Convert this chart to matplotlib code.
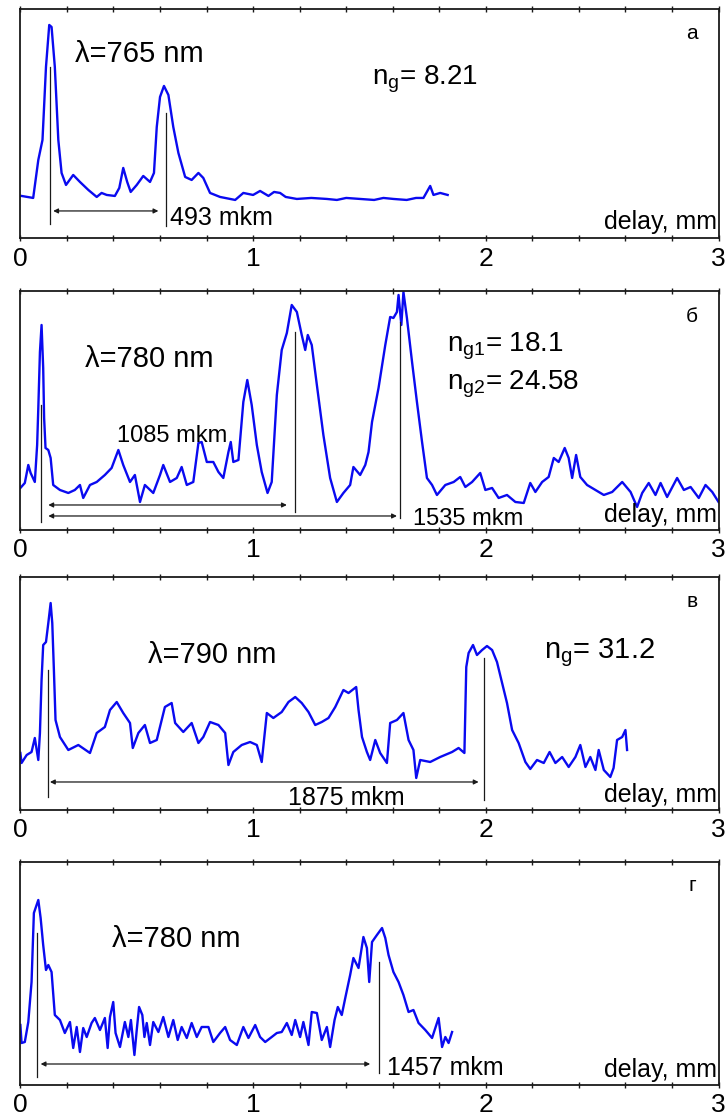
import matplotlib
matplotlib.use("Agg")
import matplotlib.pyplot as plt
from matplotlib.ticker import MultipleLocator

plt.rcParams['font.family'] = ['Liberation Sans', 'DejaVu Sans']
plt.rcParams['mathtext.fontset'] = 'custom'
plt.rcParams['mathtext.rm'] = 'Liberation Sans'
plt.rcParams['mathtext.it'] = 'Liberation Sans'

# delay (mm) / signal (arb. units)
x_a = [0.005, 0.055, 0.077, 0.095, 0.110, 0.124, 0.134, 0.148, 0.163, 0.177,
       0.196, 0.227, 0.256, 0.292, 0.328, 0.349, 0.371, 0.406, 0.425, 0.442,
       0.459, 0.474, 0.500, 0.528, 0.557, 0.574, 0.586, 0.600, 0.617, 0.636,
       0.657, 0.679, 0.708, 0.736, 0.765, 0.786, 0.815, 0.858, 0.923, 0.958,
       1.000, 1.030, 1.066, 1.090, 1.116, 1.140, 1.188, 1.250, 1.317, 1.360,
       1.400, 1.460, 1.520, 1.560, 1.603, 1.660, 1.700, 1.732, 1.761, 1.775,
       1.804, 1.836]
y_a = [41, 39, 77, 97, 170, 212, 210, 170, 97, 64,
       52, 62, 55, 47, 40, 44, 42, 41, 49, 69,
       55, 45, 52, 61, 55, 64, 110, 140, 151, 142,
       110, 84, 60, 57, 64, 59, 44, 40, 37, 44,
       42, 46, 41, 45, 44, 40, 38, 39, 38, 37,
       39, 38, 37, 39, 38, 37, 39, 39, 51, 42,
       44, 42]

x_b = [0.0, 0.019, 0.034, 0.044, 0.062, 0.072, 0.077, 0.084, 0.091, 0.098,
       0.102, 0.108, 0.120, 0.130, 0.141, 0.170, 0.206, 0.234, 0.256, 0.270,
       0.299, 0.328, 0.363, 0.392, 0.421, 0.442, 0.471, 0.492, 0.514, 0.535,
       0.571, 0.600, 0.614, 0.643, 0.672, 0.693, 0.715, 0.743, 0.765, 0.779,
       0.801, 0.829, 0.851, 0.872, 0.894, 0.904, 0.915, 0.937, 0.958, 0.975,
       0.994, 1.016, 1.037, 1.062, 1.080, 1.102, 1.123, 1.145, 1.166, 1.188,
       1.209, 1.224, 1.235, 1.252, 1.274, 1.302, 1.331, 1.360, 1.388, 1.417,
       1.431, 1.460, 1.482, 1.496, 1.511, 1.539, 1.568, 1.589, 1.603, 1.618,
       1.625, 1.637, 1.646, 1.661, 1.683, 1.704, 1.726, 1.747, 1.769, 1.790,
       1.826, 1.862, 1.890, 1.912, 1.941, 1.976, 1.998, 2.027, 2.055, 2.091,
       2.127, 2.163, 2.191, 2.213, 2.242, 2.270, 2.292, 2.313, 2.339, 2.356,
       2.371, 2.388, 2.406, 2.435, 2.471, 2.507, 2.543, 2.586, 2.622, 2.650,
       2.672, 2.700, 2.729, 2.751, 2.779, 2.822, 2.851, 2.880, 2.915, 2.944,
       2.973, 3.0]
y_b = [42, 47, 65, 57, 48, 85, 122, 178, 205, 162,
       112, 82, 80, 72, 45, 40, 37, 40, 45, 32,
       45, 48, 55, 62, 80, 65, 48, 55, 28, 45,
       37, 55, 65, 48, 52, 63, 45, 48, 87, 88,
       68, 68, 58, 52, 78, 88, 68, 70, 128, 150,
       125, 85, 58, 37, 48, 135, 180, 197, 225, 218,
       195, 180, 195, 185, 145, 95, 52, 28, 37, 45,
       63, 55, 65, 78, 108, 142, 185, 213, 212, 218,
       235, 205, 238, 212, 168, 128, 88, 52, 45, 35,
       45, 48, 53, 43, 48, 57, 40, 42, 32, 35,
       28, 27, 47, 38, 48, 53, 72, 68, 82, 72,
       52, 75, 53, 45, 40, 35, 38, 48, 38, 23,
       37, 47, 35, 47, 33, 52, 40, 43, 32, 45,
       38, 28]

x_c = [0.0, 0.005, 0.027, 0.048, 0.062, 0.077, 0.084, 0.091, 0.098, 0.110,
       0.120, 0.130, 0.137, 0.144, 0.151, 0.170, 0.206, 0.249, 0.299, 0.328,
       0.363, 0.385, 0.414, 0.442, 0.471, 0.483, 0.507, 0.535, 0.557, 0.586,
       0.621, 0.650, 0.665, 0.700, 0.736, 0.765, 0.786, 0.815, 0.851, 0.880,
       0.894, 0.915, 0.951, 0.987, 1.016, 1.037, 1.059, 1.087, 1.123, 1.152,
       1.181, 1.209, 1.238, 1.267, 1.295, 1.324, 1.353, 1.388, 1.410, 1.443,
       1.453, 1.468, 1.489, 1.503, 1.525, 1.546, 1.575, 1.589, 1.618, 1.646,
       1.668, 1.689, 1.701, 1.718, 1.761, 1.804, 1.855, 1.883, 1.908, 1.916,
       1.926, 1.945, 1.962, 1.984, 2.005, 2.027, 2.048, 2.070, 2.091, 2.113,
       2.141, 2.170, 2.191, 2.220, 2.249, 2.274, 2.299, 2.328, 2.356, 2.385,
       2.406, 2.428, 2.449, 2.471, 2.485, 2.507, 2.535, 2.549, 2.564, 2.586,
       2.600, 2.607]
y_c = [57, 47, 55, 58, 72, 50, 77, 130, 165, 168,
       187, 207, 187, 140, 90, 73, 60, 65, 57, 77,
       83, 100, 108, 97, 87, 62, 77, 85, 67, 70,
       103, 107, 87, 78, 87, 67, 73, 88, 85, 77,
       45, 58, 65, 68, 65, 48, 97, 92, 98, 108,
       113, 107, 98, 85, 88, 92, 103, 120, 117, 123,
       100, 73, 58, 50, 70, 57, 47, 87, 90, 97,
       70, 60, 32, 50, 48, 53, 58, 62, 57, 143,
       157, 165, 155, 160, 164, 160, 148, 127, 107, 80,
       67, 48, 41, 50, 47, 58, 47, 53, 43, 53,
       65, 43, 53, 40, 60, 40, 33, 42, 70, 73,
       80, 60]

x_d = [0.0, 0.005, 0.019, 0.034, 0.048, 0.058, 0.077, 0.087, 0.098, 0.110,
       0.120, 0.134, 0.148, 0.170, 0.191, 0.213, 0.227, 0.242, 0.256, 0.270,
       0.285, 0.306, 0.320, 0.342, 0.363, 0.375, 0.385, 0.399, 0.409, 0.428,
       0.449, 0.464, 0.475, 0.490, 0.500, 0.510, 0.524, 0.533, 0.543, 0.557,
       0.571, 0.593, 0.614, 0.636, 0.657, 0.676, 0.693, 0.715, 0.736, 0.758,
       0.779, 0.808, 0.829, 0.858, 0.880, 0.901, 0.930, 0.958, 0.980, 1.009,
       1.030, 1.052, 1.080, 1.102, 1.123, 1.145, 1.166, 1.181, 1.202, 1.216,
       1.238, 1.252, 1.274, 1.295, 1.317, 1.331, 1.350, 1.364, 1.381, 1.396,
       1.417, 1.431, 1.453, 1.474, 1.489, 1.499, 1.511, 1.532, 1.554, 1.568,
       1.582, 1.603, 1.625, 1.646, 1.668, 1.689, 1.711, 1.740, 1.769, 1.797,
       1.812, 1.826, 1.840, 1.855]
y_d = [60, 42, 43, 63, 103, 172, 185, 167, 140, 115,
       120, 113, 70, 65, 52, 63, 37, 58, 33, 57,
       48, 62, 67, 55, 67, 37, 68, 83, 52, 38,
       63, 48, 65, 30, 55, 78, 70, 48, 62, 40,
       63, 53, 68, 48, 65, 45, 58, 47, 62, 48,
       58, 58, 43, 52, 58, 45, 40, 58, 47, 60,
       48, 43, 48, 52, 53, 62, 50, 65, 48, 63,
       40, 73, 72, 45, 58, 38, 65, 78, 70, 87,
       110, 127, 117, 148, 137, 103, 143, 150, 157, 147,
       130, 113, 103, 90, 73, 75, 62, 55, 47, 67,
       38, 48, 42, 53]

panel_letters = ['а', 'б', 'в', 'г']
wavelengths = ['λ=765 nm', 'λ=780 nm', 'λ=790 nm', 'λ=780 nm']

# axes placement in figure fraction, y-limits in signal units
rects = [[0.028, 0.7871, 0.959, 0.2049],
         [0.028, 0.5268, 0.959, 0.2134],
         [0.028, 0.2768, 0.959, 0.2080],
         [0.028, 0.03125, 0.959, 0.1991]]
ylims = [(-1.5, 228), (0, 239), (0, 233), (0, 223)]

BLUE = '#0a0af0'
INK = '#1a1a1a'

fig = plt.figure(figsize=(7.28, 11.2), dpi=100)
axes = []
for r, yl, xs, ys in zip(rects, ylims, [x_a, x_b, x_c, x_d], [y_a, y_b, y_c, y_d]):
    ax = fig.add_axes(r)
    ax.plot(xs, ys, color=BLUE, lw=1.7)
    ax.set_xlim(0, 3)
    ax.set_ylim(*yl)
    ax.set_yticks([])
    ax.xaxis.set_major_locator(MultipleLocator(1))
    ax.xaxis.set_minor_locator(MultipleLocator(0.2))
    ax.tick_params(axis='x', which='both', direction='inout', top=True,
                   length=4, width=1, color=INK, labelsize=19, pad=4)
    for s in ax.spines.values():
        s.set_color(INK)
        s.set_linewidth(1.3)
    ax.text(2.995, 3, 'delay, mm', ha='right', va='bottom', fontsize=18)
    axes.append(ax)

for ax, letter in zip(axes, panel_letters):
    ax.text(0.962, 0.895, letter, transform=ax.transAxes, ha='center',
            va='center', fontsize=15)


def vline(ax, x, y0, y1):
    ax.plot([x, x], [y0, y1], color=INK, lw=0.9)


def span(ax, x0, x1, y):
    ax.annotate('', xy=(x1, y), xytext=(x0, y),
                arrowprops=dict(arrowstyle='<|-|>', color=INK, lw=0.9,
                                mutation_scale=7, shrinkA=0, shrinkB=0))


# panel a
ax = axes[0]
ax.text(0.234, 175, wavelengths[0], fontsize=21)
ax.text(1.51, 152, r'n$_\mathregular{g}$= 8.21', fontsize=20)
vline(ax, 0.127, 13, 170)
vline(ax, 0.626, 11, 124)
span(ax, 0.141, 0.593, 26)
ax.text(0.643, 12, '493 mkm', fontsize=18)

# panel б
ax = axes[1]
ax.text(0.277, 163, wavelengths[1], fontsize=21)
ax.text(1.833, 178, r'n$_\mathregular{g1}$= 18.1', fontsize=20)
ax.text(1.833, 140, r'n$_\mathregular{g2}$= 24.58', fontsize=20)
vline(ax, 0.087, 8, 125)
vline(ax, 1.181, 18, 198)
vline(ax, 1.632, 12, 208)
span(ax, 0.120, 1.145, 25)
span(ax, 0.120, 1.618, 14)
ax.text(0.414, 88, '1085 mkm', fontsize=17)
ax.text(1.688, 5, '1535 mkm', fontsize=17)

# panel в
ax = axes[2]
ax.text(0.548, 147, wavelengths[2], fontsize=21)
ax.text(2.252, 152, r'n$_\mathregular{g}$= 31.2', fontsize=21)
vline(ax, 0.117, 13, 140)
vline(ax, 1.991, 10, 152)
span(ax, 0.127, 1.969, 28)
ax.text(1.152, 5, '1875 mkm', fontsize=18)

# panel г
ax = axes[3]
ax.text(0.392, 138, wavelengths[3], fontsize=21)
vline(ax, 0.072, 8, 152)
vline(ax, 1.539, 12, 123)
span(ax, 0.087, 1.503, 21)
ax.text(1.575, 10, '1457 mkm', fontsize=18)

fig.savefig('out.png', dpi=100)
